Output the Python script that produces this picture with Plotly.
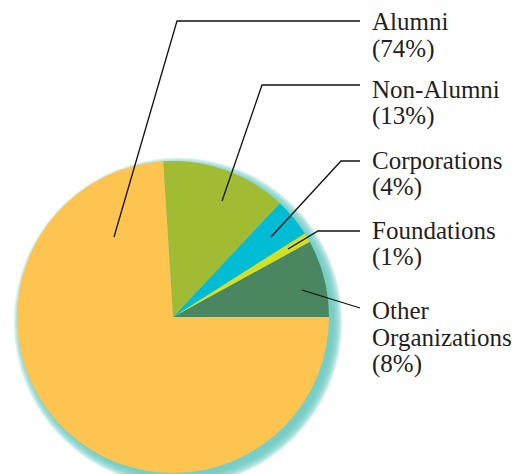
import plotly.graph_objects as go

# ---- data ----
categories = ["Other Organizations", "Foundations", "Corporations", "Non-Alumni", "Alumni"]
shares = [8, 1, 4, 13, 74]
label_lines = {
    "Alumni": ["Alumni", "(74%)"],
    "Non-Alumni": ["Non-Alumni", "(13%)"],
    "Corporations": ["Corporations", "(4%)"],
    "Foundations": ["Foundations", "(1%)"],
    "Other Organizations": ["Other", "Organizations", "(8%)"],
}
colors = ["#4A865F", "#D4DE24", "#00BCD5", "#A1BB32", "#FDC44F"]

# ---- layout geometry (pixels) ----
W, H = 531, 474
CX, CY, R = 173, 317, 156


def px(x):
    return x / W


def py(y):
    return 1 - y / H


# leader lines: start on slice, elbow, end near text
leaders = {
    "Alumni": [(114, 237), (177, 21), (360, 21)],
    "Non-Alumni": [(222, 201), (262, 85), (360, 85)],
    "Corporations": [(271, 237), (341, 161), (360, 161)],
    "Foundations": [(288, 249), (318, 231), (360, 231)],
    "Other Organizations": [(302, 290), (360, 308)],
}
text_mid = {
    "Alumni": 22,
    "Non-Alumni": 89,
    "Corporations": 160,
    "Foundations": 230,
    "Other Organizations": 310,
}
LINE_GAP = 27
TEXT_X = 370

fig = go.Figure()
fig.add_trace(go.Pie(
    labels=categories,
    values=shares,
    sort=False,
    direction="counterclockwise",
    rotation=90 - 360 * shares[0] / sum(shares),
    marker=dict(colors=colors, line=dict(width=0)),
    textinfo="none",
    hoverinfo="label+percent",
    showlegend=False,
    domain=dict(x=[px(CX - R), px(CX + R)], y=[py(CY + R), py(CY - R)]),
))

shapes = []
# soft teal glow behind the pie (offset down-right, fading outward)
for k in range(14, 0, -1):
    rr = R + k * 0.75 - 2
    ox, oy = 5, 5
    shapes.append(dict(
        type="circle", xref="paper", yref="paper",
        x0=px(CX + ox - rr), x1=px(CX + ox + rr),
        y0=py(CY + oy + rr), y1=py(CY + oy - rr),
        fillcolor="rgb(105,200,195)", opacity=0.15,
        line=dict(width=0), layer="below",
    ))

for name, pts in leaders.items():
    path = "M " + " L ".join(f"{px(x)},{py(y)}" for x, y in pts)
    shapes.append(dict(type="path", xref="paper", yref="paper", path=path,
                       line=dict(color="#111111", width=1.3), layer="above"))

annotations = []
for name, lines in label_lines.items():
    for i, t in enumerate(lines):
        annotations.append(dict(
            x=px(TEXT_X), y=py(text_mid[name] + i * LINE_GAP),
            xref="paper", yref="paper", xanchor="left", yanchor="middle",
            text=t, showarrow=False,
            font=dict(family="Liberation Serif", size=25, color="#231F20"),
        ))

fig.update_layout(
    width=W, height=H,
    margin=dict(l=0, r=0, t=0, b=0),
    paper_bgcolor="white", plot_bgcolor="white",
    shapes=shapes, annotations=annotations,
    showlegend=False,
)

fig.write_html("out.html", config={"displayModeBar": False},
               post_script="document.body.style.margin='0px';")
